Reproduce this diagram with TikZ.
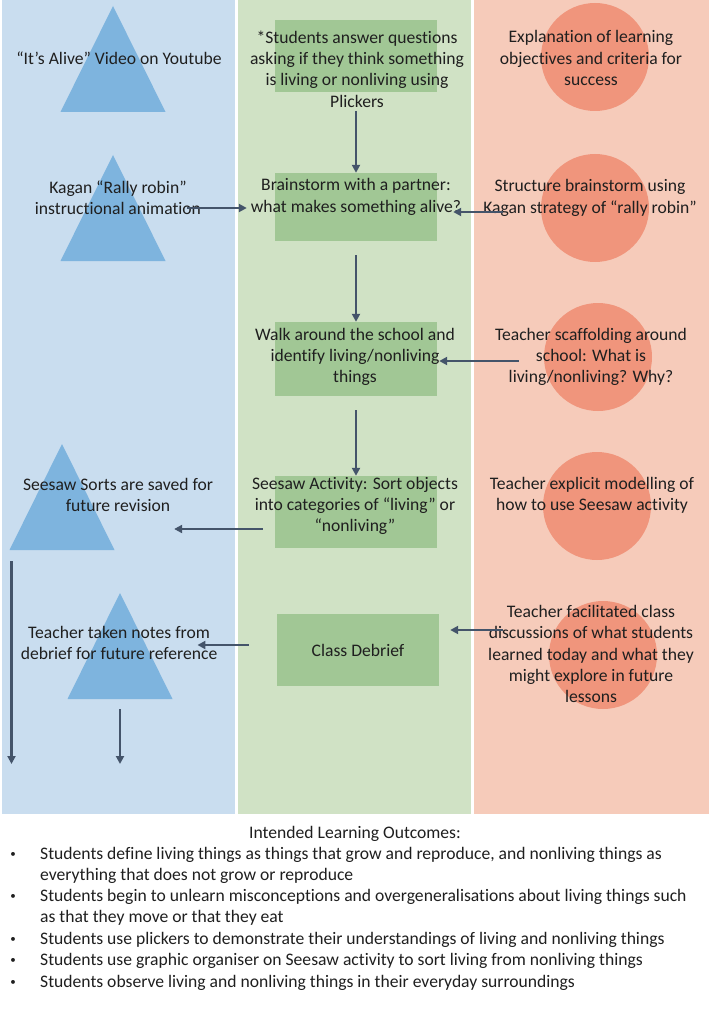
\documentclass[tikz,border=0pt]{standalone}
\usepackage{fontspec}
\setmainfont{Carlito}[Ligatures=NoCommon]
\usetikzlibrary{arrows.meta,calc}

\definecolor{bluepanel}{HTML}{C9DDEF}
\definecolor{bluetri}{HTML}{7EB4DE}
\definecolor{greenpanel}{HTML}{D0E2C5}
\definecolor{greenbox}{HTML}{A1C795}
\definecolor{redpanel}{HTML}{F6CBBA}
\definecolor{redblob}{HTML}{F0957C}
\definecolor{arrowgrey}{HTML}{44546A}

\begin{document}
\begin{tikzpicture}[x=1pt,y=-1pt,
	lbl/.style={align=center,inner sep=0pt,font=\fontsize{17.6}{21.3}\selectfont,text=black!88},
	item/.style={lbl,align=left,anchor=west},
	box/.style={fill=greenbox,minimum width=162pt,minimum height=72pt,inner sep=0pt},
	blob/.style={circle,fill=redblob,minimum size=108pt,inner sep=0pt},
	tri/.style={fill=bluetri},
	flow/.style={-{Triangle[length=8pt,width=8pt]},line width=2.4pt,draw=arrowgrey}]
	\useasboundingbox (0,0) rectangle (709,1024);
	\fill[white] (0,0) rectangle (709,1024);
	% three lanes
	\fill[bluepanel] (2,0) rectangle (235,814);
	\fill[greenpanel] (238,0) rectangle (471,814);
	\fill[redpanel] (474,0) rectangle (709,814);
	% resources
	\foreach \x/\y [count=\i] in {113/6,113/155,62/444,120/593}
	{
		\fill[tri] (\x,\y) -- ++(-52.5,106) coordinate (t\i-sw) -- ++(105,0) -- cycle;
		\coordinate (t\i) at (\x,\y+106);
	}
	% teacher
	\foreach \p [count=\i] in {(595,57),(595,208),(598,357),(597,506),(603,655)}
		\node[blob] (c\i) at \p {};
	% students
	\node[box] (g1) at (356,56) {};
	\node[box,minimum height=68pt] (g2) at (356,207) {};
	\node[box,minimum height=74pt] (g3) at (356,359) {};
	\node[box] (g4) at (356,512) {};
	\node[box,lbl] (g5) at (358,650) {Class Debrief};

	\node[lbl] (bt1) at (119,58) {“It’s Alive” Video on Youtube};
	\node[lbl] (bt2) at (118,198) {Kagan “Rally robin”\\instructional animation};
	\node[lbl] (bt3) at (118,495) {Seesaw Sorts are saved for\\future revision};
	\node[lbl] (bt4) at (119,643) {Teacher taken notes from\\debrief for future reference};

	\node[lbl] (gt1) at (357,69) {*Students answer questions\\asking if they think something\\is living or nonliving using\\Plickers};
	\node[lbl] (gt2) at (356,197) {Brainstorm with a partner:\\what makes something alive?};
	\node[lbl] (gt3) at (355,357) {Walk around the school and\\identify living/nonliving\\things};
	\node[lbl] (gt4) at (355,506) {Seesaw Activity: Sort objects\\into categories of “living” or\\“nonliving”};

	\node[lbl] (rt1) at (591,58) {Explanation of learning\\objectives and criteria for\\success};
	\node[lbl] (rt2) at (590,198) {Structure brainstorm using\\Kagan strategy of “rally robin”};
	\node[lbl] (rt3) at (591,357) {Teacher scaffolding around\\school: What is\\living/nonliving? Why?};
	\node[lbl] (rt4) at (592,495) {Teacher explicit modelling of\\how to use Seesaw activity};
	\node[lbl] (rt5) at (591,654) {Teacher facilitated class\\discussions of what students\\learned today and what they\\might explore in future\\lessons};

	\draw[flow] ($(g2.north)+(0,-62)$) -- (g2.north);
	\draw[flow] ($(bt2.east)+(-14,10)$) -- ($(g2.west)+(-28,1)$);
	\draw[flow] ($(rt2.west)+(20,14)$) -- ($(g2.east)+(16,5)$);
	\draw[flow] ($(g2.south)+(0,14)$) -- (g3.north);
	\draw[flow] ($(rt3.west)+(24,4)$) -- ($(g3.east)+(2,2)$);
	\draw[flow] ($(g3.south)+(0,14)$) -- (g4.north);
	\draw[flow] ($(g4.west)+(-12,17)$) -- ($(bt3.east)+(-39,34)$);
	\draw[flow] ($(rt5.west)+(15,-24)$) -- ($(g5.east)+(11,-20)$);
	\draw[flow] ($(g5.west)+(-28,-5)$) -- ($(bt4.east)+(-20,2)$);
	\draw[flow] ($(t3-sw)+(2,11)$) -- ++(0,203);
	\draw[flow] ($(t4)+(0,10)$) -- ++(0,55);

	% outcomes
	\node[lbl] (ilo) at (355,834) {Intended Learning Outcomes:};
	\foreach \y [count=\i] in {855,897,940,961,983}
		\node[lbl,font=\fontsize{11}{11}\selectfont] (p\i) at (13,\y) {\textbullet};
	\node[item] (o1) at (40,865.5) {Students define living things as things that grow and reproduce, and nonliving things as\\everything that does not grow or reproduce};
	\node[item] (o2) at (40,907.5) {Students begin to unlearn misconceptions and overgeneralisations about living things such\\as that they move or that they eat};
	\node[item] (o3) at (40,940) {Students use plickers to demonstrate their understandings of living and nonliving things};
	\node[item] (o4) at (40,961) {Students use graphic organiser on Seesaw activity to sort living from nonliving things};
	\node[item] (o5) at (40,983) {Students observe living and nonliving things in their everyday surroundings};
\end{tikzpicture}
\end{document}
